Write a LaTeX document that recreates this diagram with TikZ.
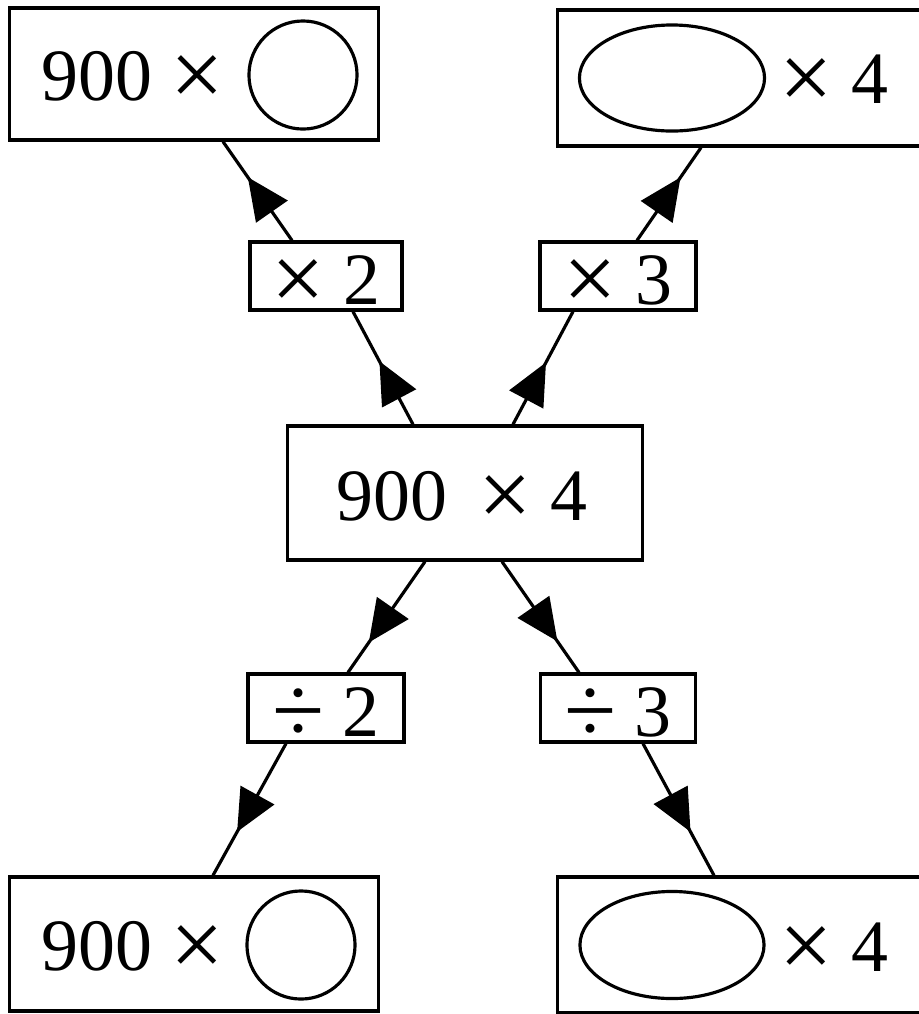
\documentclass[tikz,border=0pt]{standalone}
\usepackage{fontspec}
\setmainfont{Liberation Serif}
\usepackage{tikz}
\usetikzlibrary{arrows.meta, positioning, calc, shapes.geometric, decorations.markings}

\newcommand{\bigsym}[1]{\raisebox{-0.06cm}{\fontsize{27}{30}\selectfont #1}}

\tikzset{
  bigbox/.style={draw, inner sep=0pt},
  opbox/.style={draw, inner sep=0pt, minimum height=0.68cm, text height=0.56cm, text depth=0pt},
  txt/.style={inner sep=0pt, anchor=base west},
  blank/.style={draw, inner sep=0pt},
  link/.style={postaction={decorate}, decoration={markings,
      mark=at position #1 with {\arrow{Triangle[length=0.42cm, width=0.38cm]}}}}
}

\begin{document}
\begin{tikzpicture}[x=0.01cm, y=-0.01cm, line width=0.9pt,
    every node/.style={font=\fontsize{21}{25}\selectfont}]
  \useasboundingbox (0,0) rectangle (919,1014);
  % middle
  \node[opbox, minimum width=3.55cm, minimum height=1.34cm] (c) at (465,493) {};
  \node[txt] (ctxt) at (335,520) {900\,\ \bigsym{×} 4};
  % multiply
  \node[opbox, minimum width=1.52cm] (m2) at (326,276) {\bigsym{×} 2};
  \node[opbox, minimum width=1.56cm] (m3) at (618,276) {\bigsym{×} 3};
  % divide
  \node[opbox, minimum width=1.56cm] (d2) at (326,708) {\bigsym{÷} 2};
  \node[opbox, minimum width=1.55cm] (d3) at (618,708) {\bigsym{÷} 3};
  % top results
  \node[bigbox, minimum width=3.68cm, minimum height=1.32cm] (tl) at (194,74) {};
  \node[txt] (tltxt) at (40,100) {900 \bigsym{×}};
  \node[blank, circle, minimum size=1.08cm] (tlo) at (303,75) {};
  \node[bigbox, minimum width=3.72cm, minimum height=1.36cm] (tr) at (744,78) {};
  \node[blank, ellipse, minimum width=1.85cm, minimum height=1.06cm] (tro) at (672,78) {};
  \node[txt] (trtxt) at (778,103) {\bigsym{×} 4};
  % bottom results
  \node[bigbox, minimum width=3.68cm, minimum height=1.34cm] (bl) at (194,944) {};
  \node[txt] (bltxt) at (40,970) {900 \bigsym{×}};
  \node[blank, circle, minimum size=1.08cm] (blo) at (301,945) {};
  \node[bigbox, minimum width=3.72cm, minimum height=1.36cm] (br) at (744,945) {};
  \node[blank, ellipse, minimum width=1.84cm, minimum height=1.07cm] (bro) at (672,945) {};
  \node[txt] (brtxt) at (778,971) {\bigsym{×} 4};
  % links up
  \draw[link=0.56] ($(c.north)+(-52,0)$) -- ($(m2.south)+(27,0)$);
  \draw[link=0.55] ($(c.north)+(48,0)$) -- ($(m3.south)+(-45,0)$);
  \draw[link=0.64] ($(m2.north)+(-34,0)$) -- ($(tl.south)+(29,0)$);
  \draw[link=0.68] ($(m3.north)+(19,0)$) -- ($(tr.south)+(-43,0)$);
  % links down
  \draw[link=0.73] ($(c.south)+(-40,0)$) -- ($(d2.north)+(22,0)$);
  \draw[link=0.72] ($(c.south)+(37,0)$) -- ($(d3.north)+(-39,0)$);
  \draw[link=0.67] ($(d2.south)+(-40,0)$) -- ($(bl.north)+(19,0)$);
  \draw[link=0.67] ($(d3.south)+(25,0)$) -- ($(br.north)+(-30,0)$);
\end{tikzpicture}
\end{document}
